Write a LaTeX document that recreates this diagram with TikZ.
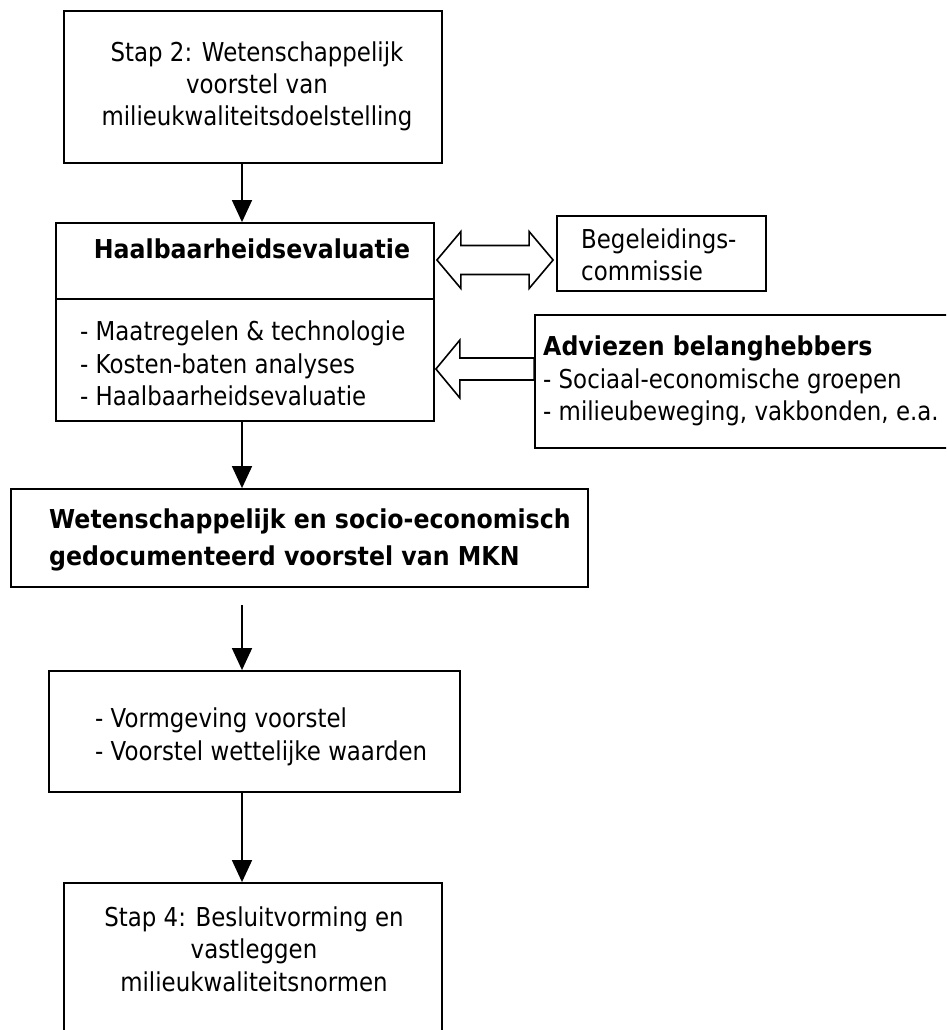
\documentclass[tikz,border=0pt]{standalone}
\usepackage{fontspec}
\setmainfont{DejaVu Sans}[FakeStretch=0.88, BoldFeatures={FakeStretch=0.91}]
\usetikzlibrary{arrows.meta,calc}

\begin{document}
\begin{tikzpicture}[x=1pt,y=-1pt,
  box/.style={draw, line width=1.8pt, inner sep=0pt},
  flow/.style={line width=1.6pt, -{Triangle[length=22pt,width=20pt]}},
  hollow/.style={draw, line width=1.6pt, line join=miter, fill=white},
  txt/.style={inner sep=0pt, font=\fontsize{26}{31}\selectfont},
  btxt/.style={inner sep=0pt, font=\fontsize{26}{31}\selectfont\bfseries},
]
\useasboundingbox (0,0) rectangle (946,1030);
\clip (0,0) rectangle (946,1030);

% frames
\node[box, minimum width=378pt, minimum height=152pt] (stap2) at (253,86.7) {};
\node[box, minimum width=378pt, minimum height=198pt] (haal)  at (245,322) {};
\node[box, minimum width=209pt, minimum height=75pt]  (beg)   at (661.5,253.5) {};
\node[box, minimum width=445pt, minimum height=133pt] (adv)   at (757.5,381.5) {};
\node[box, minimum width=577pt, minimum height=98pt]  (wet)   at (299.5,538) {};
\node[box, minimum width=411pt, minimum height=121pt] (vorm)  at (254.5,731.5) {};
\node[box, minimum width=378pt, minimum height=177pt] (stap4) at (253,971.5) {};

% divider inside the evaluation box
\coordinate (dv) at (0,299);
\draw[line width=1.8pt] (haal.west |- dv) -- (haal.east |- dv);

% texts
\node[txt, anchor=base] (s2a) at (257,62)    {Stap 2: Wetenschappelijk};
\node[txt, anchor=base] (s2b) at (257,93.5)  {voorstel van};
\node[txt, anchor=base] (s2c) at (257,125)   {milieukwaliteitsdoelstelling};

\node[btxt, anchor=base] (ht) at (252,258) {Haalbaarheidsevaluatie};
\node[txt, anchor=base west] (h1) at (80,340) {- Maatregelen \& technologie};
\node[txt, anchor=base west] (h2) at (80,373) {- Kosten-baten analyses};
\node[txt, anchor=base west] (h3) at (80,405) {- Haalbaarheidsevaluatie};

\node[txt, anchor=base west] (b1) at (581,248) {Begeleidings-};
\node[txt, anchor=base west] (b2) at (581,280) {commissie};

\node[btxt, anchor=base west] (a1) at (543,355) {Adviezen belanghebbers};
\node[txt, anchor=base west] (a2) at (543,388) {- Sociaal-economische groepen};
\node[txt, anchor=base west] (a3) at (543,420) {- milieubeweging, vakbonden, e.a.};

\node[btxt, anchor=base west] (w1) at (49,528) {Wetenschappelijk en socio-economisch};
\node[btxt, anchor=base west] (w2) at (49,565) {gedocumenteerd voorstel van MKN};

\node[txt, anchor=base west] (v1) at (95,727) {- Vormgeving voorstel};
\node[txt, anchor=base west] (v2) at (95,760) {- Voorstel wettelijke waarden};

\node[txt, anchor=base] (s4a) at (254,926)   {Stap 4: Besluitvorming en};
\node[txt, anchor=base] (s4b) at (254,958.5) {vastleggen};
\node[txt, anchor=base] (s4c) at (254,991)   {milieukwaliteitsnormen};

% main flow
\coordinate (ax) at (242,0);
\draw[flow] (stap2.south -| ax) -- (haal.north -| ax);
\draw[flow] (haal.south -| ax) -- (wet.north -| ax);
\draw[flow] ($(wet.south -| ax)+(0,17)$) -- (vorm.north -| ax);
\draw[flow] (vorm.south -| ax) -- (stap4.north -| ax);

% two-way block arrow to the steering committee
\coordinate (dy) at (0,260);
\coordinate (dL) at ($(haal.east |- dy)+(2,0)$);
\coordinate (dR) at ($(beg.west |- dy)+(-3,0)$);
\draw[hollow] (dL) -- ++(24,-28.5) -- ++(0,14) -- ($(dR)+(-24,-14.5)$)
  -- ++(0,-14) -- (dR) -- ++(-24,28.5) -- ++(0,-14)
  -- ($(dL)+(24,14.5)$) -- ++(0,14) -- cycle;

% block arrow from the stakeholder advice
\coordinate (sy) at (0,369);
\coordinate (sT) at ($(haal.east |- sy)+(1,0)$);
\draw[hollow] (sT) -- ++(24,-29) -- ++(0,18) -- ($(adv.west |- sy)+(0,-11)$)
  -- ++(0,22) -- ($(sT)+(24,11)$) -- ++(0,18) -- cycle;
\end{tikzpicture}
\end{document}
